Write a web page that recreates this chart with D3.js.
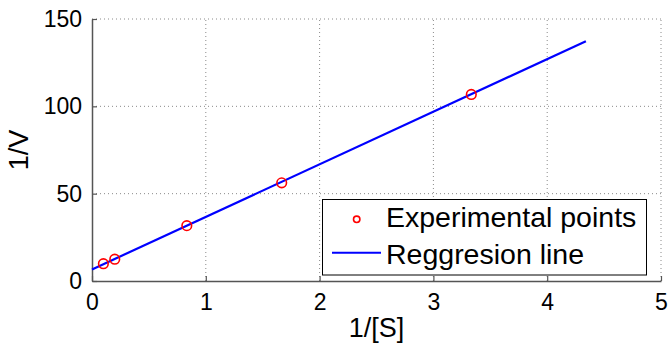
<!DOCTYPE html>
<html>
<head>
<meta charset="utf-8">
<script src="https://cdn.jsdelivr.net/npm/d3@7"></script>
<style>
  body { margin: 0; background: #fff; }
  svg { display: block; font-family: "Liberation Sans", Arial, sans-serif; }
</style>
</head>
<body>
<svg id="chart" width="671" height="346"></svg>
<script>
// measured points, 1/[S] vs 1/V
const pointX = [0.1, 0.2, 0.833, 1.667, 3.333];
const pointY = [9.9, 12.5, 31.7, 56.2, 106.8];

// fitted line, end points
const lineX = [0, 4.34];
const lineY = [6.6, 137.3];

const xTicks = [0, 1, 2, 3, 4, 5];
const yTicks = [0, 50, 100, 150];
const legendLabels = ["Experimental points", "Reggresion line"];

const svg = d3.select("#chart");
const plotLeft = 92, plotRight = 661, plotTop = 19, plotBottom = 281;

const x = d3.scaleLinear().domain([0, 5]).range([plotLeft, plotRight]);
const y = d3.scaleLinear().domain([0, 150]).range([plotBottom, plotTop]);

const gridColor = "#8a8a8a";
const axisColor = "#555";

// grid (dotted)
svg.append("g")
    .selectAll("line")
    .data(xTicks.slice(1))
  .join("line")
    .attr("x1", d => x(d)).attr("x2", d => x(d))
    .attr("y1", plotBottom).attr("y2", plotTop)
    .attr("stroke", gridColor)
    .attr("stroke-dasharray", "1,3");

svg.append("g")
    .selectAll("line")
    .data(yTicks.slice(1))
  .join("line")
    .attr("x1", plotLeft).attr("x2", plotRight)
    .attr("y1", d => y(d)).attr("y2", d => y(d))
    .attr("stroke", gridColor)
    .attr("stroke-dasharray", "1,3");

// axes, ticks inside
const xAxis = d3.axisBottom(x).tickValues(xTicks).tickFormat(d3.format("d"))
    .tickSizeInner(-5).tickSizeOuter(0).tickPadding(12);
const yAxis = d3.axisLeft(y).tickValues(yTicks).tickFormat(d3.format("d"))
    .tickSizeInner(-5).tickSizeOuter(0).tickPadding(10);

const gx = svg.append("g").attr("transform", `translate(0,${plotBottom})`).call(xAxis);
const gy = svg.append("g").attr("transform", `translate(${plotLeft},0)`).call(yAxis);

for (const g of [gx, gy]) {
    g.select(".domain").attr("stroke", axisColor).attr("stroke-width", 1.5);
    g.selectAll(".tick line").attr("stroke", axisColor).attr("stroke-width", 1.2);
    g.selectAll(".tick text")
        .attr("font-family", "Liberation Sans, Arial, sans-serif")
        .attr("font-size", 23)
        .attr("fill", "#000");
}
gx.selectAll(".tick text").attr("dy", "0.75em");

// regression line
svg.append("path")
    .datum(d3.zip(lineX, lineY))
    .attr("fill", "none")
    .attr("stroke", "#0000ff")
    .attr("stroke-width", 2.2)
    .attr("d", d3.line().x(d => x(d[0])).y(d => y(d[1])));

// points
svg.append("g")
    .selectAll("circle")
    .data(d3.zip(pointX, pointY))
  .join("circle")
    .attr("cx", d => x(d[0]))
    .attr("cy", d => y(d[1]))
    .attr("r", 4.8)
    .attr("fill", "none")
    .attr("stroke", "#ff0000")
    .attr("stroke-width", 1.6);

// axis titles
svg.append("text")
    .attr("x", (plotLeft + plotRight) / 2)
    .attr("y", 337)
    .attr("text-anchor", "middle")
    .attr("font-size", 27)
    .text("1/[S]");

svg.append("text")
    .attr("transform", `translate(28,${(plotTop + plotBottom) / 2}) rotate(-90)`)
    .attr("text-anchor", "middle")
    .attr("font-size", 27)
    .text("1/V");

// legend
const legend = svg.append("g");
legend.append("rect")
    .attr("x", 322.5).attr("y", 199.5)
    .attr("width", 324).attr("height", 75.5)
    .attr("fill", "#fff")
    .attr("stroke", "#000")
    .attr("stroke-width", 1);

legend.append("circle")
    .attr("cx", 356.7).attr("cy", 219.3)
    .attr("r", 3.2)
    .attr("fill", "none")
    .attr("stroke", "#ff0000")
    .attr("stroke-width", 1.6);

legend.append("line")
    .attr("x1", 332).attr("x2", 381)
    .attr("y1", 252.7).attr("y2", 252.7)
    .attr("stroke", "#0000ff")
    .attr("stroke-width", 2);

legend.selectAll("text")
    .data(legendLabels)
  .join("text")
    .attr("x", 386)
    .attr("y", (d, i) => 227 + i * 37)
    .attr("font-size", 28.5)
    .text(d => d);
</script>
</body>
</html>
